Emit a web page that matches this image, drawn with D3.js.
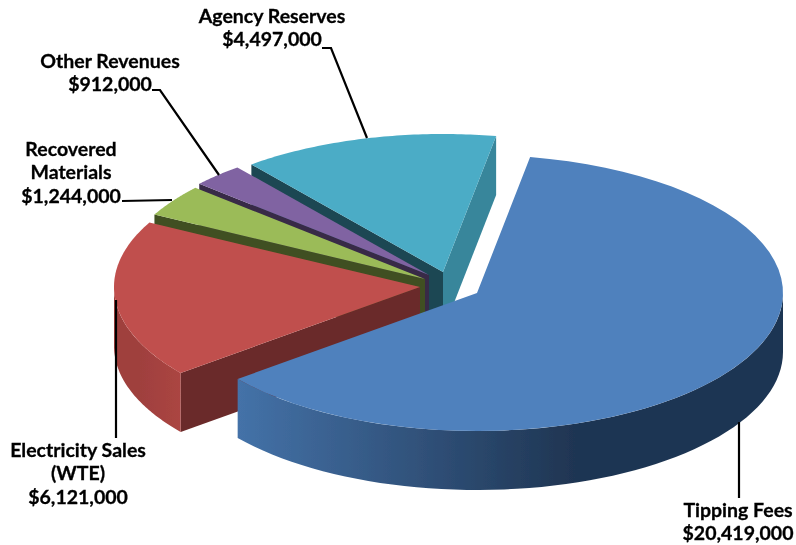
<!DOCTYPE html>
<html>
<head>
<meta charset="utf-8">
<script src="https://cdn.jsdelivr.net/npm/d3@7"></script>
<style>
  html, body { margin: 0; padding: 0; background: #fff; }
  svg { display: block; }
</style>
</head>
<body>
<div id="chart"></div>
<script>
// data, clockwise from the big slice
const categories = ['Tipping Fees', 'Electricity Sales (WTE)', 'Recovered Materials', 'Other Revenues', 'Agency Reserves'];
const values = [20419000, 6121000, 1244000, 912000, 4497000];
const labelLines = [
  ['Tipping Fees', '$20,419,000'],
  ['Electricity Sales', '(WTE)', '$6,121,000'],
  ['Recovered', 'Materials', '$1,244,000'],
  ['Other Revenues', '$912,000'],
  ['Agency Reserves', '$4,497,000']
];

// styling and layout
const topColors = ['#4f81bd', '#c0504d', '#9bbb59', '#8064a2', '#4bacc6'];
const cutColors = ['#1f3552', '#6b2a29', '#414f22', '#372a47', '#1e4753'];
const endColors = ['#1f3552', '#6b2a29', '#414f22', '#372a47', '#38869b'];
const outerColors = [['#4472a8', '#1f3552'], ['#ab4542', '#9f403e'], ['#414f22', '#414f22'], ['#372a47', '#372a47'], ['#38869b', '#38869b']];
const apexes = [[477, 293], [420, 287], [425, 279], [429, 275], [443, 272]];
const labelPos = [[738, 517], [78, 457], [71, 156], [110, 68], [272, 23]];
const leaders = [
  [[739, 422], [739, 498]],
  [[116, 300], [116, 438]],
  [[122, 201], [172, 200]],
  [[152, 90], [160, 90], [219, 175]],
  [[322, 48], [331, 48], [367, 138]]
];

const width = 796, height = 545;
const rx = 306, ry = 138, depth = 59;
const firstAngle = 10 * Math.PI / 180;

const svg = d3.select('#chart').append('svg')
    .attr('width', width)
    .attr('height', height);

const defs = svg.append('defs');
defs.append('filter').attr('id', 'soft')
    .attr('x', '-5%').attr('y', '-5%').attr('width', '110%').attr('height', '110%')
  .append('feGaussianBlur').attr('stdDeviation', 0.6);

outerColors.forEach((c, i) => {
  const grad = defs.append('linearGradient').attr('id', `outer${i}`);
  grad.append('stop').attr('offset', '0%').attr('stop-color', c[0]);
  grad.append('stop').attr('offset', '62%').attr('stop-color', c[1]);
  grad.append('stop').attr('offset', '100%').attr('stop-color', c[1]);
});

const pie = d3.pie()
    .sort(null)
    .startAngle(firstAngle)
    .endAngle(firstAngle + 2 * Math.PI);

const slices = pie(values);
const line = d3.line();

// point on the rim of a slice's ellipse, angle clockwise from the top
const rim = (i, a, drop = 0) => [
  apexes[i][0] + rx * Math.sin(a),
  apexes[i][1] - ry * Math.cos(a) + drop
];
const rimRange = (i, a0, a1, drop = 0) =>
  d3.range(0, 61).map(k => rim(i, a0 + (a1 - a0) * k / 60, drop));

const g = svg.append('g').attr('filter', 'url(#soft)');

// back to front
[4, 3, 2, 1, 0].forEach(i => {
  const s = slices[i];
  const apex = apexes[i];
  const apexLow = [apex[0], apex[1] + depth];

  // cut face on the start side
  if (Math.sin(s.startAngle) < 0) {
    g.append('path')
        .attr('d', line([apex, rim(i, s.startAngle), rim(i, s.startAngle, depth), apexLow]) + 'Z')
        .attr('fill', cutColors[i]);
  }
  // cut face on the end side
  if (Math.sin(s.endAngle) > 0) {
    g.append('path')
        .attr('d', line([apex, rim(i, s.endAngle), rim(i, s.endAngle, depth), apexLow]) + 'Z')
        .attr('fill', endColors[i]);
  }
  // outer wall, only the front half of the ellipse shows
  const a0 = Math.max(s.startAngle, Math.PI / 2);
  const a1 = Math.min(s.endAngle, 3 * Math.PI / 2);
  if (a1 > a0) {
    const upper = rimRange(i, a0, a1);
    const lower = rimRange(i, a1, a0, depth);
    g.append('path')
        .attr('d', line(upper.concat(lower)) + 'Z')
        .attr('fill', `url(#outer${i})`);
  }
  // top
  g.append('path')
      .attr('d', line([apex].concat(rimRange(i, s.startAngle, s.endAngle))) + 'Z')
      .attr('fill', topColors[i]);
});

// the blue wall darkens left to right, the red one right to left
defs.select('#outer1').attr('x1', '100%').attr('x2', '0%');

// leader lines
svg.append('g').attr('filter', 'url(#soft)')
  .selectAll('path')
  .data(leaders)
  .join('path')
    .attr('d', d => line(d))
    .attr('fill', 'none')
    .attr('stroke', '#000')
    .attr('stroke-width', 2.2);

// labels
const labels = svg.append('g')
    .attr('filter', 'url(#soft)')
    .attr('font-family', 'Lato, "Open Sans", sans-serif')
    .attr('font-size', 19.5)
    .attr('font-weight', 700)
    .attr('fill', '#000')
    .attr('stroke', '#000')
    .attr('stroke-width', 0.3)
    .attr('text-anchor', 'middle')
  .selectAll('text')
  .data(categories)
  .join('text')
    .attr('transform', (d, i) => `translate(${labelPos[i][0]}, ${labelPos[i][1]})`);

labels.selectAll('tspan')
  .data((d, i) => labelLines[i])
  .join('tspan')
    .attr('x', 0)
    .attr('dy', (d, i) => i === 0 ? 0 : 23.3)
    .text(d => d);
</script>
</body>
</html>
